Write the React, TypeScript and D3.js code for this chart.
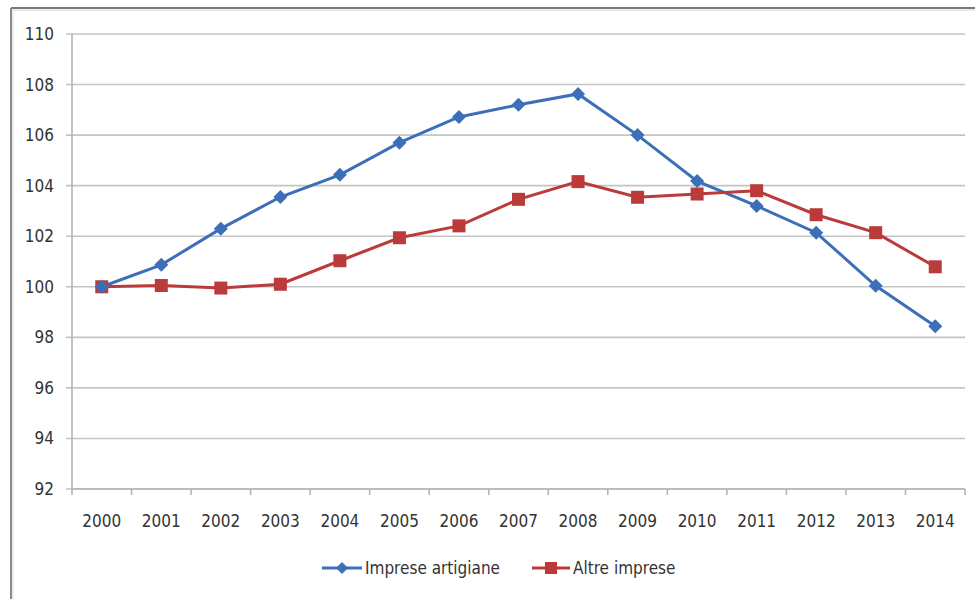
import React from "react";
import * as d3 from "d3";

const years = ["2000","2001","2002","2003","2004","2005","2006","2007","2008","2009","2010","2011","2012","2013","2014"];
const artigiane = [100, 100.87, 102.3, 103.55, 104.43, 105.7, 106.72, 107.2, 107.63, 106.0, 104.18, 103.2, 102.14, 100.04, 98.44];
const altre = [100, 100.05, 99.95, 100.1, 101.03, 101.94, 102.41, 103.46, 104.16, 103.54, 103.67, 103.8, 102.85, 102.14, 100.79];
const yTicks = [92, 94, 96, 98, 100, 102, 104, 106, 108, 110];
const seriesNames = ["Imprese artigiane", "Altre imprese"];

const W = 975, H = 599;
const left = 72, right = 965, top = 34, bottom = 489;
const BLUE = "#3d6fb8";
const RED = "#bb3b3b";
const FONT = "'Liberation Sans Narrow', 'DejaVu Sans Condensed', 'Liberation Sans', Arial, sans-serif";

export default function App() {
  const x = d3.scaleBand<string>().domain(years).range([left, right]);
  const y = d3.scaleLinear().domain([92, 110]).range([bottom, top]);
  const cx = (i: number) => (x(years[i]) as number) + x.bandwidth() / 2;
  const line = d3.line<number>().x((_, i) => cx(i)).y((d) => y(d));
  const boundaries = years.map((yr) => x(yr) as number).concat([right]);

  const diamond = (px: number, py: number, r: number) =>
    `M${px},${py - r}L${px + r},${py}L${px},${py + r}L${px - r},${py}Z`;

  return (
    <svg width={W} height={H} style={{ position: "absolute", left: 0, top: 0, background: "#fff" }}>
      {/* frame */}
      <line x1={11} y1={8} x2={W} y2={8} stroke="#7a7a7a" strokeWidth={2} />
      <line x1={11} y1={8} x2={11} y2={H} stroke="#8a8a8a" strokeWidth={2} />
      <line x1={13} y1={10} x2={W} y2={10} stroke="#d6d6d6" strokeWidth={1} />
      <line x1={13} y1={10} x2={13} y2={H} stroke="#dcdcdc" strokeWidth={1} />
      {/* gridlines */}
      {yTicks.map((t) => (
        <g key={t}>
          <line x1={left - 6} x2={right} y1={y(t)} y2={y(t)} stroke="#c4c4c4" strokeWidth={1.6} />
          <text x={54} y={y(t)} dy="0.35em" textAnchor="end" fontFamily={FONT} fontSize={17} fill="#333">
            {t}
          </text>
        </g>
      ))}
      {/* axes */}
      <line x1={left} x2={left} y1={top} y2={bottom} stroke="#b4b4b4" strokeWidth={1.6} />
      <line x1={left} x2={right} y1={bottom} y2={bottom} stroke="#b4b4b4" strokeWidth={1.6} />
      {boundaries.map((b, i) => (
        <line key={i} x1={b} x2={b} y1={bottom} y2={bottom + 6} stroke="#b4b4b4" strokeWidth={1.6} />
      ))}
      {years.map((yr, i) => (
        <text key={yr} x={cx(i)} y={521} dy="0.35em" textAnchor="middle" fontFamily={FONT} fontSize={17} fill="#333">
          {yr}
        </text>
      ))}
      {/* series */}
      <path d={line(artigiane) || ""} fill="none" stroke={BLUE} strokeWidth={3} />
      <path d={line(altre) || ""} fill="none" stroke={RED} strokeWidth={3} />
      {altre.map((v, i) => (
        <rect key={"r" + i} x={cx(i) - 6.5} y={y(v) - 6.5} width={13} height={13} fill={RED} />
      ))}
      {artigiane.map((v, i) => (
        <path key={"b" + i} d={diamond(cx(i), y(v), 7)} fill={BLUE} />
      ))}
      {/* legend */}
      <line x1={322} x2={362} y1={568} y2={568} stroke={BLUE} strokeWidth={3} />
      <path d={diamond(342, 568, 6)} fill={BLUE} />
      <text x={365} y={568} dy="0.35em" fontFamily={FONT} fontSize={17} fill="#333">{seriesNames[0]}</text>
      <line x1={532} x2={570} y1={568} y2={568} stroke={RED} strokeWidth={3} />
      <rect x={545} y={562} width={12} height={12} fill={RED} />
      <text x={573} y={568} dy="0.35em" fontFamily={FONT} fontSize={17} fill="#333">{seriesNames[1]}</text>
    </svg>
  );
}
